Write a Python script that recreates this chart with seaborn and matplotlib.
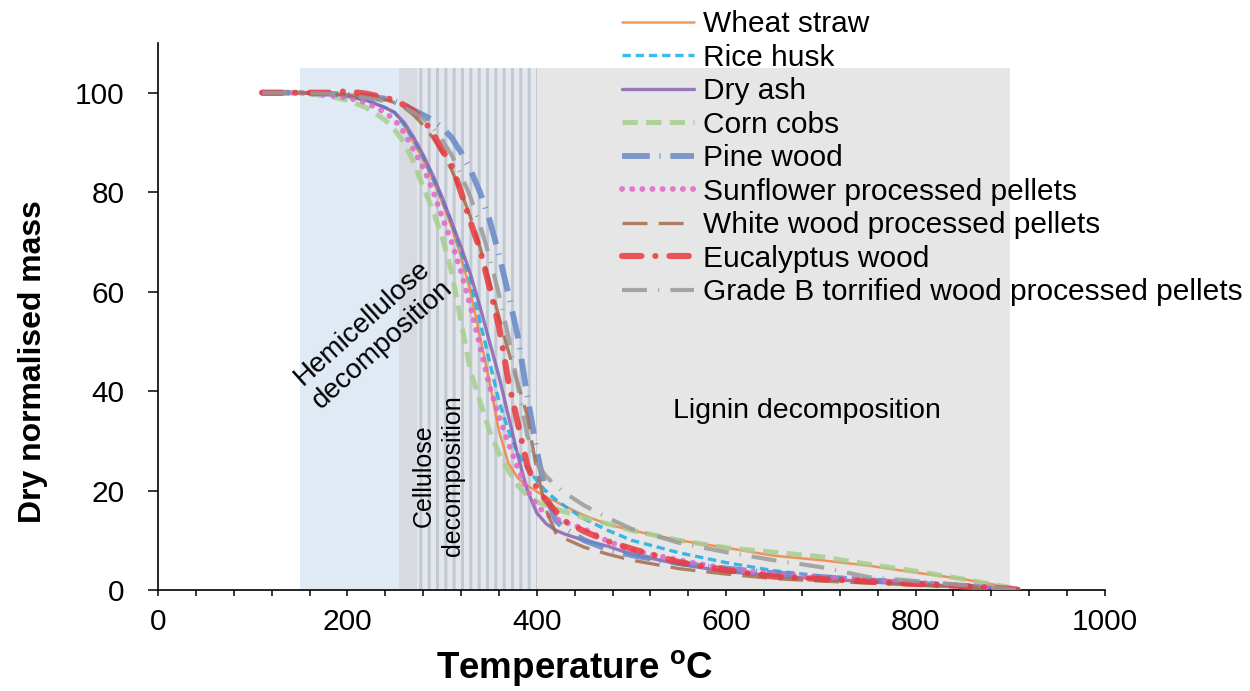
import matplotlib
matplotlib.use("Agg")
import matplotlib.pyplot as plt
import seaborn as sns
import pandas as pd

# ---------------- data ----------------
temperature = [110, 150, 180, 200, 220, 240,
               250, 260, 270, 280, 290, 300, 310, 320, 330, 340, 350, 360, 370, 380,
               390, 400, 410, 420, 430,
               450, 475, 500,
               550, 600, 650, 700, 750, 800, 850, 900, 910]

wheat_straw = [100, 100, 99.7, 99.3, 98.5, 97,
               96, 93.5, 90, 86.5, 82.5, 78, 73, 67, 60, 51, 42, 32, 25.5, 22.5, 21, 19.8, 18.6, 17.8, 16.8,
               15, 13.2, 12,
               10, 8.5, 6.9, 6, 4.9, 3.5, 2.2, 0.5, 0]
rice_husk = [100, 100, 99.7, 99.3, 98.5, 97,
             96, 93.5, 90.5, 87, 83, 78.5, 74, 68, 62, 54, 46, 38, 32, 27.5, 24.5, 22, 19.8, 18.2, 16.8,
             14.3, 12, 10,
             7.5, 5.5, 3.9, 2.8, 2.2, 1.6, 1, 0.3, 0]
dry_ash = [100, 100, 99.7, 99.3, 98.5, 97,
           96, 94, 91, 87.5, 83.5, 79, 74, 69, 63.5, 57, 50, 43, 35, 27, 20, 15.5, 13.3, 12, 11.2,
           10, 8.8, 7.2,
           5.2, 3.7, 2.9, 2.2, 1.7, 1.2, 0.7, 0.2, 0]
corn_cobs = [100, 100, 99.3, 98.5, 97, 94.5,
             92.5, 90, 86, 81, 76.5, 71, 64, 54, 44, 38, 32, 27.5, 24, 21, 19, 17.8, 17, 16.3, 15.7,
             14.5, 13.3, 12,
             10, 8.5, 7.6, 6.7, 5.2, 3.8, 2.2, 0.5, 0]
pine_wood = [100, 100, 99.8, 99.6, 99.3, 98.8,
             98.3, 97.5, 96.5, 95.5, 94.5, 93, 91, 88, 84.5, 80, 74.5, 67.5, 59.5, 51, 39, 28, 19, 14, 12.3,
             10, 8.2, 7,
             5.4, 4.3, 3.4, 2.6, 1.9, 1.3, 0.7, 0.2, 0]
sunflower = [100, 100, 99.5, 99, 98, 96,
             94.5, 92, 88.5, 85, 80.5, 75, 70, 64, 57, 49, 41, 35, 29.5, 24.5, 20, 17, 15.2, 14.3, 13.6,
             12.3, 9.8, 8,
             6, 4.3, 3.3, 2.6, 2, 1.5, 0.9, 0.3, 0]
white_wood = [100, 100, 99.8, 99.6, 99.2, 98.6,
              98, 97, 95.5, 93.5, 91, 88, 84.5, 80, 75, 69, 62, 55, 48, 41.5, 35, 24, 16, 11.5, 10.3,
              8.6, 7.2, 6,
              4.3, 3.2, 2.3, 1.8, 1.4, 1, 0.6, 0.2, 0]
eucalyptus = [100, 100, 100, 100.3, 99.8, 99,
              98.5, 97.5, 96.3, 94.6, 92, 88.5, 85.5, 80, 74, 68.5, 61, 53, 42, 33.5, 25, 20.5, 18, 15.8, 13.8,
              11.8, 9.8, 8.3,
              5.6, 4, 2.7, 2.2, 1.7, 1.2, 0.8, 0.2, 0]
grade_b = [100, 100, 99.8, 99.5, 99, 98.3,
           97.8, 97, 96, 94.8, 93, 90.5, 87.5, 83.5, 79, 73.5, 67, 59.5, 51, 41, 31, 25.5, 22.8, 21, 19.5,
           17, 14.5, 12.3,
           9.5, 7.6, 6, 4.6, 2.6, 1.8, 1, 0.2, 0]

series_names = ["Wheat straw", "Rice husk", "Dry ash", "Corn cobs", "Pine wood",
                "Sunflower processed pellets", "White wood processed pellets",
                "Eucalyptus wood", "Grade B torrified wood processed pellets"]
series_values = [wheat_straw, rice_husk, dry_ash, corn_cobs, pine_wood,
                 sunflower, white_wood, eucalyptus, grade_b]

# decomposition regions (temperature ranges)
hemicellulose_range = (150, 255)
cellulose_range = (255, 400)
lignin_range = (400, 900)
region_top = 105

# ---------------- styles ----------------
styles = {
    "Wheat straw": dict(color="#F0843F", lw=1.8, ls="-"),
    "Rice husk": dict(color="#1AAEE6", lw=2.4, ls=(0, (6, 3.5))),
    "Dry ash": dict(color="#8A63B3", lw=2.4, ls="-"),
    "Corn cobs": dict(color="#A6CF90", lw=3.6, ls=(0, (11, 6))),
    "Pine wood": dict(color="#6689C8", lw=4.2, ls=(0, (20, 7, 0.8, 7))),
    "Sunflower processed pellets": dict(color="#E067C4", lw=4.2, ls=(0, (0.1, 7.2)), capstyle="round"),
    "White wood processed pellets": dict(color="#A56C4C", lw=2.4, ls=(0, (18, 8))),
    "Eucalyptus wood": dict(color="#E83A3E", lw=4.4, ls=(0, (14, 10, 0.1, 10)), capstyle="round"),
    "Grade B torrified wood processed pellets": dict(color="#9A9A9A", lw=3.0, ls=(0, (18, 8, 0.8, 8))),
}

sns.set_style("white", rc={"text.color": "black", "axes.labelcolor": "black",
                           "xtick.color": "black", "ytick.color": "black"})
plt.rcParams["font.family"] = ["Liberation Sans", "DejaVu Sans"]
plt.rcParams["mathtext.fontset"] = "custom"
plt.rcParams["mathtext.rm"] = "Liberation Sans"
plt.rcParams["mathtext.bf"] = "Liberation Sans:bold"
plt.rcParams["lines.scale_dashes"] = False
plt.rcParams["hatch.linewidth"] = 2.2

fig = plt.figure(figsize=(12.5, 6.91), dpi=100)
ax = fig.add_axes([158 / 1250, 1 - 590 / 691, (1105 - 158) / 1250, (590 - 43) / 691])

ymax_frac = region_top / 110
ax.axvspan(*hemicellulose_range, ymin=0, ymax=ymax_frac, color="#DFEAF5", lw=0, zorder=0)
ax.axvspan(*lignin_range, ymin=0, ymax=ymax_frac, color="#E6E6E6", lw=0, zorder=0)
ax.axvspan(*cellulose_range, ymin=0, ymax=ymax_frac, facecolor="#E4E7EC", edgecolor="#C2C9D3",
           hatch="||", lw=0, zorder=0)
ax.axvspan(cellulose_range[0], cellulose_range[0] + 18, ymin=0, ymax=ymax_frac,
           color="#D7DBE1", lw=0, zorder=0.5)

for name, vals in zip(series_names, series_values):
    st = styles[name]
    df = pd.DataFrame({"Temperature": temperature, "Mass": vals})
    sns.lineplot(data=df, x="Temperature", y="Mass", ax=ax, color=st["color"], linewidth=st["lw"],
                 linestyle=st["ls"], dash_capstyle=st.get("capstyle", "butt"), alpha=0.85,
                 label=name, sort=False, zorder=3)

ax.set_xlim(0, 1000)
ax.set_ylim(0, 110)
ax.set_xticks([0, 200, 400, 600, 800, 1000])
ax.set_xticks(list(range(0, 1001, 40)), minor=True)
ax.set_yticks([0, 20, 40, 60, 80, 100])
ax.tick_params(axis="both", labelsize=21.5, colors="black")
ax.tick_params(axis="x", which="both", direction="out", length=4, width=1.1, bottom=True, pad=9)
ax.tick_params(axis="y", which="major", direction="out", length=7, width=1.1, left=True, pad=17)
for s in ["top", "right"]:
    ax.spines[s].set_visible(False)
for s in ["left", "bottom"]:
    ax.spines[s].set_color("black")
    ax.spines[s].set_linewidth(1.2)

ax.set_xlabel(r"Temperature $^{\mathbf{o}}$C", fontsize=26.5, fontweight="bold")
ax.set_ylabel("Dry normalised mass", fontsize=23, fontweight="bold")
ax.xaxis.set_label_coords((575 - 158) / 947, (590 - 648) / 547)
ax.yaxis.set_label_coords((48 - 158) / 947, (590 - 362) / 547)

ax.text(226, 51.5, "Hemicellulose\ndecomposition", rotation=42, fontsize=20,
        ha="center", va="center", rotation_mode="anchor", multialignment="center", zorder=4)
ax.text(296, 23, "Cellulose\ndecomposition", rotation=90, fontsize=18,
        ha="center", va="center", multialignment="center", linespacing=1.3, zorder=4)
ax.text(685, 36, "Lignin decomposition", fontsize=20.5, ha="center", va="center", zorder=4)

handles, labels = ax.get_legend_handles_labels()
ax.legend(handles, labels, loc="upper left", bbox_to_anchor=(622 / 1250, 1 - 10 / 691),
          bbox_transform=fig.transFigure, frameon=False, fontsize=21.5, handlelength=2.4,
          handletextpad=0.3, labelspacing=0.185, borderpad=0, borderaxespad=0)

fig.savefig("out.png", dpi=100)
